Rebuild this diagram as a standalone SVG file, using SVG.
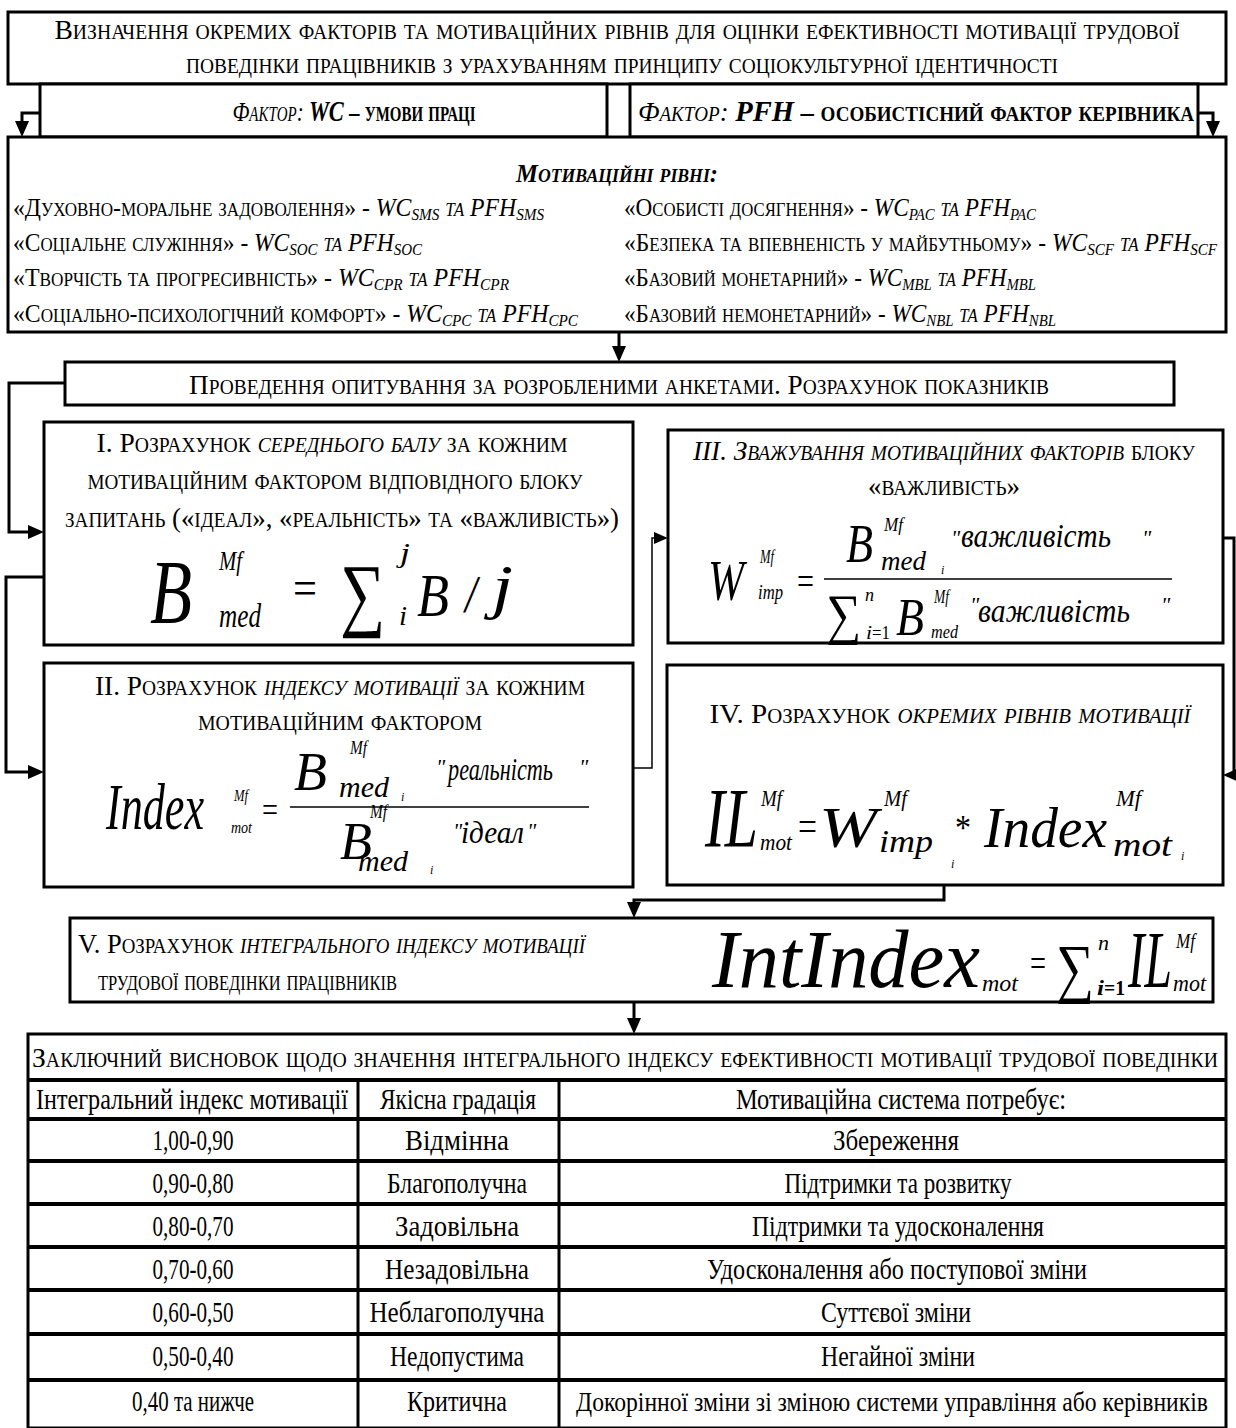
<svg xmlns="http://www.w3.org/2000/svg" width="1236" height="1428" viewBox="0 0 1236 1428">
<defs>
<style>
.b{fill:#fff;stroke:#000;stroke-width:3}
.c{fill:none;stroke:#000;stroke-width:3}
.ct{fill:none;stroke:#000;stroke-width:1.5}
text{font-family:"Liberation Serif","Times New Roman",serif;fill:#000}
.sc{font-variant:small-caps;font-size:28px}
.ml{font-variant:small-caps;font-size:25px}
.i{font-style:italic}
.bd{font-weight:bold}
.f{font-style:italic}
.u{font-style:normal}
.tb{font-size:29px}
.tl{fill:none;stroke:#000;stroke-width:4}
.tv{fill:none;stroke:#000;stroke-width:3}
</style>
<marker id="ah" viewBox="0 0 16 14" refX="12" refY="7" markerWidth="16" markerHeight="14" markerUnits="userSpaceOnUse" orient="auto"><path d="M0,0 L16,7 L0,14 z" fill="#000"/></marker>
<marker id="ahs" viewBox="0 0 16 14" refX="14" refY="7" markerWidth="14" markerHeight="13" markerUnits="userSpaceOnUse" orient="auto"><path d="M0,0 L16,7 L0,14 z" fill="#000"/></marker>
</defs>
<rect width="1236" height="1428" fill="#fff"/>

<g id="connectors">
<path class="c" d="M40,113 H22 V133" marker-end="url(#ah)"/>
<path class="c" d="M1198,113 H1213 V133" marker-end="url(#ah)"/>
<path class="c" d="M619,332 V358" marker-end="url(#ah)"/>
<path class="c" d="M65,383 H9 V532 H40" marker-end="url(#ah)"/>
<path class="c" d="M44,577 H6 V772 H40" marker-end="url(#ah)"/>
<path class="ct" d="M633,768 H652 V538 H666" marker-end="url(#ahs)"/>
<path class="c" d="M1223,538 H1234 V775 H1227" marker-end="url(#ah)"/>
<path class="c" d="M944,886 V900 H634 V914" marker-end="url(#ah)"/>
<path class="c" d="M634,1003 V1030" marker-end="url(#ah)"/>
</g>

<g id="header">
<rect class="b" x="8" y="12" width="1218" height="72"/>
<text class="sc" x="617" y="39" text-anchor="middle" textLength="1125" lengthAdjust="spacingAndGlyphs">Визначення окремих факторів та мотиваційних рівнів для оцінки ефективності мотивації трудової</text>
<text class="sc" x="622" y="73" text-anchor="middle" textLength="872" lengthAdjust="spacingAndGlyphs">поведінки працівників з урахуванням принципу соціокультурної ідентичності</text>
</g>

<g id="factor-wc">
<rect class="b" x="40" y="84" width="567" height="53"/>
<text class="sc" x="354" y="121" text-anchor="middle" textLength="243" lengthAdjust="spacingAndGlyphs"><tspan class="i">Фактор: </tspan><tspan class="i bd" font-variant="normal" font-size="30">WC</tspan><tspan class="bd"> – умови праці</tspan></text>
</g>

<g id="factor-pfh">
<rect class="b" x="630" y="84" width="568" height="53"/>
<text class="sc" x="916" y="121" text-anchor="middle" textLength="556" lengthAdjust="spacingAndGlyphs"><tspan class="i">Фактор: </tspan><tspan class="i bd" font-variant="normal" font-size="30">PFH</tspan><tspan class="bd"> – особистісний фактор керівника</tspan></text>
</g>

<g id="levels">
<rect class="b" x="8" y="137" width="1218" height="195"/>
<text class="ml i bd" x="617" y="182" text-anchor="middle" font-size="28" textLength="202" lengthAdjust="spacingAndGlyphs">Мотиваційні рівні:</text>
<text class="ml" x="13" y="216" textLength="531" lengthAdjust="spacingAndGlyphs">«Духовно-моральне задоволення» - <tspan class="i" font-variant="normal">WC</tspan><tspan class="i" font-variant="normal" font-size="16" dy="4">SMS</tspan><tspan class="i" dy="-4"> та </tspan><tspan class="i" font-variant="normal">PFH</tspan><tspan class="i" font-variant="normal" font-size="16" dy="4">SMS</tspan></text>
<text class="ml" x="13" y="251" textLength="409" lengthAdjust="spacingAndGlyphs">«Соціальне служіння» - <tspan class="i" font-variant="normal">WC</tspan><tspan class="i" font-variant="normal" font-size="16" dy="4">SOC</tspan><tspan class="i" dy="-4">  та </tspan><tspan class="i" font-variant="normal">PFH</tspan><tspan class="i" font-variant="normal" font-size="16" dy="4">SOC</tspan></text>
<text class="ml" x="13" y="286" textLength="496" lengthAdjust="spacingAndGlyphs">«Творчість та  прогресивність» - <tspan class="i" font-variant="normal">WC</tspan><tspan class="i" font-variant="normal" font-size="16" dy="4">CPR</tspan><tspan class="i" dy="-4">  та </tspan><tspan class="i" font-variant="normal">PFH</tspan><tspan class="i" font-variant="normal" font-size="16" dy="4">CPR</tspan></text>
<text class="ml" x="13" y="322" textLength="565" lengthAdjust="spacingAndGlyphs">«Соціально-психологічний комфорт» - <tspan class="i" font-variant="normal">WC</tspan><tspan class="i" font-variant="normal" font-size="16" dy="4">CPC</tspan><tspan class="i" dy="-4"> та </tspan><tspan class="i" font-variant="normal">PFH</tspan><tspan class="i" font-variant="normal" font-size="16" dy="4">CPC</tspan></text>
<text class="ml" x="624" y="216" textLength="412" lengthAdjust="spacingAndGlyphs">«Особисті досягнення» - <tspan class="i" font-variant="normal">WC</tspan><tspan class="i" font-variant="normal" font-size="16" dy="4">PAC</tspan><tspan class="i" dy="-4"> та </tspan><tspan class="i" font-variant="normal">PFH</tspan><tspan class="i" font-variant="normal" font-size="16" dy="4">PAC</tspan></text>
<text class="ml" x="624" y="251" textLength="593" lengthAdjust="spacingAndGlyphs">«Безпека та впевненість у майбутньому» - <tspan class="i" font-variant="normal">WC</tspan><tspan class="i" font-variant="normal" font-size="16" dy="4">SCF</tspan><tspan class="i" dy="-4"> та </tspan><tspan class="i" font-variant="normal">PFH</tspan><tspan class="i" font-variant="normal" font-size="16" dy="4">SCF</tspan></text>
<text class="ml" x="624" y="286" textLength="412" lengthAdjust="spacingAndGlyphs">«Базовий монетарний» - <tspan class="i" font-variant="normal">WC</tspan><tspan class="i" font-variant="normal" font-size="16" dy="4">MBL</tspan><tspan class="i" dy="-4"> та </tspan><tspan class="i" font-variant="normal">PFH</tspan><tspan class="i" font-variant="normal" font-size="16" dy="4">MBL</tspan></text>
<text class="ml" x="624" y="322" textLength="432" lengthAdjust="spacingAndGlyphs">«Базовий немонетарний» - <tspan class="i" font-variant="normal">WC</tspan><tspan class="i" font-variant="normal" font-size="16" dy="4">NBL</tspan><tspan class="i" dy="-4"> та </tspan><tspan class="i" font-variant="normal">PFH</tspan><tspan class="i" font-variant="normal" font-size="16" dy="4">NBL</tspan></text>
</g>

<g id="survey">
<rect class="b" x="65" y="362" width="1109" height="43"/>
<text class="sc" x="619" y="394" text-anchor="middle" textLength="860" lengthAdjust="spacingAndGlyphs">Проведення опитування за розробленими анкетами. Розрахунок показників</text>
</g>

<g id="step1">
<rect class="b" x="44" y="422" width="589" height="223"/>
<text class="sc" x="332" y="452" text-anchor="middle" textLength="471" lengthAdjust="spacingAndGlyphs">І. Розрахунок <tspan class="i">середнього балу</tspan> за кожним</text>
<text class="sc" x="335" y="489" text-anchor="middle" textLength="495" lengthAdjust="spacingAndGlyphs">мотиваційним фактором відповідного блоку</text>
<text class="sc" x="342" y="527" text-anchor="middle" textLength="554" lengthAdjust="spacingAndGlyphs">запитань («ідеал», «реальність» та «важливість»)</text>
<text class="f"><tspan font-size="92" x="150" y="623" textLength="42" lengthAdjust="spacingAndGlyphs">B</tspan><tspan font-size="28" x="219" y="570" textLength="23" lengthAdjust="spacingAndGlyphs">Mf</tspan><tspan font-size="34" x="219" y="627" textLength="42" lengthAdjust="spacingAndGlyphs">med</tspan><tspan class="u" font-size="50" x="293" y="605" textLength="24" lengthAdjust="spacingAndGlyphs">=</tspan><tspan class="u" font-size="82" x="340" y="621" textLength="45" lengthAdjust="spacingAndGlyphs">∑</tspan><tspan font-size="28" x="400" y="562" textLength="10" lengthAdjust="spacingAndGlyphs">j</tspan><tspan font-size="28" x="399" y="625" textLength="8" lengthAdjust="spacingAndGlyphs">i</tspan><tspan font-size="62" x="417" y="616" textLength="32" lengthAdjust="spacingAndGlyphs">B</tspan><tspan font-size="52" x="465" y="612" textLength="12" lengthAdjust="spacingAndGlyphs">/</tspan><tspan font-size="62" x="492" y="607" textLength="21" lengthAdjust="spacingAndGlyphs">j</tspan></text>
</g>

<g id="step3">
<rect class="b" x="668" y="430" width="555" height="213"/>
<text class="sc" x="944" y="460" text-anchor="middle" textLength="502" lengthAdjust="spacingAndGlyphs"><tspan class="i">ІІІ. Зважування мотиваційних факторів</tspan> блоку</text>
<text class="sc" x="944" y="495" text-anchor="middle" textLength="152" lengthAdjust="spacingAndGlyphs">«важливість»</text>
<line x1="824" y1="579" x2="1172" y2="579" stroke="#000" stroke-width="1.5"/>
<text class="f"><tspan font-size="58" x="708" y="600" textLength="36" lengthAdjust="spacingAndGlyphs">W</tspan><tspan font-size="18" x="760" y="563" textLength="14" lengthAdjust="spacingAndGlyphs">Mf</tspan><tspan font-size="21" x="758" y="599" textLength="25" lengthAdjust="spacingAndGlyphs">imp</tspan><tspan class="u" font-size="38" x="797" y="594" textLength="17" lengthAdjust="spacingAndGlyphs">=</tspan><tspan font-size="54" x="846" y="562" textLength="27" lengthAdjust="spacingAndGlyphs">B</tspan><tspan font-size="19" x="884" y="531" textLength="19" lengthAdjust="spacingAndGlyphs">Mf</tspan><tspan font-size="28" x="881" y="570" textLength="45" lengthAdjust="spacingAndGlyphs">med</tspan><tspan font-size="12" x="941" y="574">i</tspan><tspan font-size="22" x="951" y="545">"</tspan><tspan font-size="33" x="961" y="547" textLength="150" lengthAdjust="spacingAndGlyphs">важливість</tspan><tspan font-size="22" x="1142" y="545">"</tspan><tspan class="u" font-size="56" x="826" y="633" textLength="35" lengthAdjust="spacingAndGlyphs">∑</tspan><tspan font-size="18" x="865" y="601">n</tspan><tspan font-size="19" x="866" y="639" textLength="6" lengthAdjust="spacingAndGlyphs">i</tspan><tspan class="u" font-size="19" x="872" y="639" textLength="18" lengthAdjust="spacingAndGlyphs">=1</tspan><tspan font-size="52" x="896" y="635" textLength="28" lengthAdjust="spacingAndGlyphs">B</tspan><tspan font-size="18" x="934" y="603" textLength="15" lengthAdjust="spacingAndGlyphs">Mf</tspan><tspan font-size="19" x="931" y="638" textLength="27" lengthAdjust="spacingAndGlyphs">med</tspan><tspan font-size="22" x="970" y="612">"</tspan><tspan font-size="33" x="978" y="622" textLength="152" lengthAdjust="spacingAndGlyphs">важливість</tspan><tspan font-size="22" x="1161" y="612">"</tspan></text>
</g>

<g id="step2">
<rect class="b" x="44" y="663" width="589" height="224"/>
<text class="sc" x="340" y="695" text-anchor="middle" textLength="490" lengthAdjust="spacingAndGlyphs">ІІ. Розрахунок <tspan class="i">індексу мотивації</tspan> за кожним</text>
<text class="sc" x="340" y="730" text-anchor="middle" textLength="284" lengthAdjust="spacingAndGlyphs">мотиваційним фактором</text>
<line x1="290" y1="807" x2="589" y2="807" stroke="#000" stroke-width="1.5"/>
<text class="f"><tspan font-size="66" x="106" y="829" textLength="98" lengthAdjust="spacingAndGlyphs">Index</tspan><tspan font-size="16" x="234" y="801" textLength="14" lengthAdjust="spacingAndGlyphs">Mf</tspan><tspan font-size="16" x="231" y="833" textLength="21" lengthAdjust="spacingAndGlyphs">mot</tspan><tspan class="u" font-size="36" x="262" y="822" textLength="16" lengthAdjust="spacingAndGlyphs">=</tspan><tspan font-size="54" x="294" y="790" textLength="33" lengthAdjust="spacingAndGlyphs">B</tspan><tspan font-size="18" x="350" y="754" textLength="17" lengthAdjust="spacingAndGlyphs">Mf</tspan><tspan font-size="29" x="339" y="797" textLength="50" lengthAdjust="spacingAndGlyphs">med</tspan><tspan font-size="12" x="401" y="801">i</tspan><tspan font-size="22" x="436" y="774">"</tspan><tspan font-size="31" x="448" y="780" textLength="105" lengthAdjust="spacingAndGlyphs">реальність</tspan><tspan font-size="22" x="579" y="774">"</tspan><tspan font-size="52" x="340" y="859" textLength="32" lengthAdjust="spacingAndGlyphs">B</tspan><tspan font-size="18" x="370" y="818" textLength="17" lengthAdjust="spacingAndGlyphs">Mf</tspan><tspan font-size="29" x="358" y="871" textLength="50" lengthAdjust="spacingAndGlyphs">med</tspan><tspan font-size="12" x="430" y="874">i</tspan><tspan font-size="22" x="453" y="838">"</tspan><tspan font-size="31" x="461" y="843" textLength="63" lengthAdjust="spacingAndGlyphs">ідеал</tspan><tspan font-size="22" x="527" y="838">"</tspan></text>
</g>

<g id="step4">
<rect class="b" x="667" y="665" width="556" height="220"/>
<text class="sc" x="950" y="723" text-anchor="middle" textLength="481" lengthAdjust="spacingAndGlyphs">IV. Розрахунок <tspan class="i">окремих рівнів мотивації</tspan></text>
<text class="f"><tspan font-size="84" x="705" y="847" textLength="53" lengthAdjust="spacingAndGlyphs">IL</tspan><tspan font-size="23" x="761" y="806" textLength="21" lengthAdjust="spacingAndGlyphs">Mf</tspan><tspan font-size="23" x="760" y="850" textLength="32" lengthAdjust="spacingAndGlyphs">mot</tspan><tspan class="u" font-size="42" x="798" y="840" textLength="19" lengthAdjust="spacingAndGlyphs">=</tspan><tspan font-size="58" x="819" y="847" textLength="58" lengthAdjust="spacingAndGlyphs">W</tspan><tspan font-size="23" x="884" y="806" textLength="23" lengthAdjust="spacingAndGlyphs">Mf</tspan><tspan font-size="31" x="879" y="852" textLength="54" lengthAdjust="spacingAndGlyphs">imp</tspan><tspan font-size="12" x="951" y="868">i</tspan><tspan class="u" font-size="36" x="955" y="840" textLength="16" lengthAdjust="spacingAndGlyphs">*</tspan><tspan font-size="58" x="984" y="847" textLength="123" lengthAdjust="spacingAndGlyphs">Index</tspan><tspan font-size="23" x="1116" y="806" textLength="25" lengthAdjust="spacingAndGlyphs">Mf</tspan><tspan font-size="33" x="1113" y="856" textLength="59" lengthAdjust="spacingAndGlyphs">mot</tspan><tspan font-size="12" x="1181" y="860">i</tspan></text>
</g>

<g id="step5">
<rect class="b" x="70" y="918" width="1143" height="84"/>
<text class="sc" x="78" y="953" font-size="25" textLength="507" lengthAdjust="spacingAndGlyphs">V. Розрахунок <tspan class="i">інтегрального індексу мотивації</tspan></text>
<text class="sc" x="98" y="990" font-size="25" textLength="299" lengthAdjust="spacingAndGlyphs">трудової поведінки працівників</text>
<text class="f"><tspan font-size="82" x="712" y="987" textLength="268" lengthAdjust="spacingAndGlyphs">IntIndex</tspan><tspan font-size="24" x="982" y="991" textLength="36" lengthAdjust="spacingAndGlyphs">mot</tspan><tspan class="u" font-size="40" x="1030" y="977" textLength="16" lengthAdjust="spacingAndGlyphs">=</tspan><tspan class="u" font-size="66" x="1056" y="990" textLength="38" lengthAdjust="spacingAndGlyphs">∑</tspan><tspan font-size="22" x="1098" y="950">n</tspan><tspan class="bd" font-size="22" x="1097" y="995" textLength="7" lengthAdjust="spacingAndGlyphs">i</tspan><tspan class="u bd" font-size="22" x="1104" y="995" textLength="21" lengthAdjust="spacingAndGlyphs">=1</tspan><tspan font-size="80" x="1128" y="987" textLength="44" lengthAdjust="spacingAndGlyphs">IL</tspan><tspan font-size="22" x="1176" y="948" textLength="19" lengthAdjust="spacingAndGlyphs">Mf</tspan><tspan font-size="24" x="1173" y="991" textLength="33" lengthAdjust="spacingAndGlyphs">mot</tspan></text>
</g>

<g id="conclusion-table">
<rect x="28" y="1034" width="1198" height="394" fill="#fff" stroke="#000" stroke-width="3"/>
<path class="tl" d="M28,1080 H1226 M28,1119 H1226 M28,1161 H1226 M28,1204 H1226 M28,1247 H1226 M28,1290 H1226 M28,1334 H1226 M28,1380 H1226"/>
<path class="tv" d="M358,1080 V1428 M559,1080 V1428"/>
<text class="sc" x="32" y="1067" textLength="1186" lengthAdjust="spacingAndGlyphs">Заключний висновок щодо  значення інтегрального індексу ефективності мотивації трудової поведінки</text>
<g class="tb" text-anchor="middle">
<text x="192" y="1109" textLength="312" lengthAdjust="spacingAndGlyphs">Інтегральний індекс мотивації</text>
<text x="458" y="1109" textLength="156" lengthAdjust="spacingAndGlyphs">Якісна градація</text>
<text x="901" y="1109" textLength="330" lengthAdjust="spacingAndGlyphs">Мотиваційна система потребує:</text>
<text x="193" y="1150" textLength="81" lengthAdjust="spacingAndGlyphs">1,00-0,90</text>
<text x="457" y="1150" textLength="104" lengthAdjust="spacingAndGlyphs">Відмінна</text>
<text x="896" y="1150" textLength="126" lengthAdjust="spacingAndGlyphs">Збереження</text>
<text x="193" y="1193" textLength="81" lengthAdjust="spacingAndGlyphs">0,90-0,80</text>
<text x="457" y="1193" textLength="140" lengthAdjust="spacingAndGlyphs">Благополучна</text>
<text x="898" y="1193" textLength="227" lengthAdjust="spacingAndGlyphs">Підтримки та розвитку</text>
<text x="193" y="1236" textLength="81" lengthAdjust="spacingAndGlyphs">0,80-0,70</text>
<text x="457" y="1236" textLength="124" lengthAdjust="spacingAndGlyphs">Задовільна</text>
<text x="898" y="1236" textLength="292" lengthAdjust="spacingAndGlyphs">Підтримки та удосконалення</text>
<text x="193" y="1279" textLength="81" lengthAdjust="spacingAndGlyphs">0,70-0,60</text>
<text x="457" y="1279" textLength="144" lengthAdjust="spacingAndGlyphs">Незадовільна</text>
<text x="897" y="1279" textLength="380" lengthAdjust="spacingAndGlyphs">Удосконалення або поступової зміни</text>
<text x="193" y="1322" textLength="81" lengthAdjust="spacingAndGlyphs">0,60-0,50</text>
<text x="457" y="1322" textLength="175" lengthAdjust="spacingAndGlyphs">Неблагополучна</text>
<text x="896" y="1322" textLength="150" lengthAdjust="spacingAndGlyphs">Суттєвої зміни</text>
<text x="193" y="1366" textLength="81" lengthAdjust="spacingAndGlyphs">0,50-0,40</text>
<text x="457" y="1366" textLength="134" lengthAdjust="spacingAndGlyphs">Недопустима</text>
<text x="898" y="1366" textLength="154" lengthAdjust="spacingAndGlyphs">Негайної зміни</text>
<text x="193" y="1411" textLength="122" lengthAdjust="spacingAndGlyphs">0,40 та нижче</text>
<text x="457" y="1411" textLength="100" lengthAdjust="spacingAndGlyphs">Критична</text>
<text transform="translate(892,1411) scale(0.8,1)" x="0" y="0" font-size="28" textLength="790" lengthAdjust="spacingAndGlyphs">Докорінної зміни зі зміною системи управління або керівників</text>
</g>
</g>
</svg>
